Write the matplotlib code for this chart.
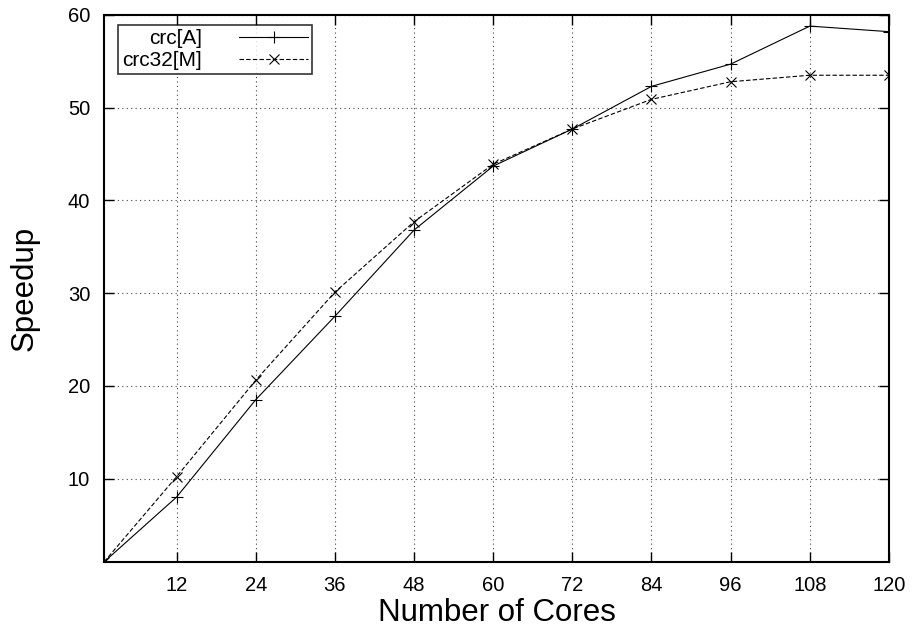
import matplotlib
matplotlib.use("Agg")
import matplotlib.pyplot as plt

plt.rcParams["font.family"] = ["Liberation Sans", "DejaVu Sans"]

cores = [1, 12, 24, 36, 48, 60, 72, 84, 96, 108, 120]
crc_a = [1, 8.0, 18.5, 27.5, 36.8, 43.7, 47.7, 52.3, 54.7, 58.8, 58.2]
crc32_m = [1, 10.2, 20.6, 30.1, 37.7, 43.9, 47.7, 50.9, 52.8, 53.5, 53.5]
xticks = [12, 24, 36, 48, 60, 72, 84, 96, 108, 120]
yticks = [10, 20, 30, 40, 50, 60]

fig = plt.figure(figsize=(9.14, 6.32), dpi=100)
ax = fig.add_axes([0.1138, 0.1108, 0.8588, 0.8655])

ax.plot(cores, crc_a, color="black", lw=0.8, marker="+", ms=8, mew=0.8,
        label="crc[A]")
ax.plot(cores, crc32_m, color="black", lw=0.8, ls=(0, (4, 2)), marker="x",
        ms=7, mew=0.8, label="crc32[M]")

ax.set_xlim(1, 120)
ax.set_ylim(1, 60)
ax.set_xticks(xticks)
ax.set_yticks(yticks)
ax.tick_params(direction="in", length=7, width=1, labelsize=14.5,
               top=True, right=True)
ax.tick_params(axis="x", pad=10)
ax.tick_params(axis="y", pad=10)
ax.grid(True, color="#444444", ls=(0, (1, 3)), lw=0.8)
for s in ax.spines.values():
    s.set_linewidth(1.5)

ax.set_xlabel("Number of Cores", fontsize=22.5, labelpad=2)
ax.set_ylabel("Speedup", fontsize=22.5, labelpad=20)

leg = ax.legend(loc="upper left", bbox_to_anchor=(0.0178, 0.9817),
                borderaxespad=0, markerfirst=False, fontsize=15,
                handlelength=3.3, frameon=True, fancybox=False,
                edgecolor="black", borderpad=0.2, labelspacing=0.15,
                handletextpad=1.8)
leg.get_frame().set_linewidth(1.2)

fig.savefig("out.png", dpi=100)
